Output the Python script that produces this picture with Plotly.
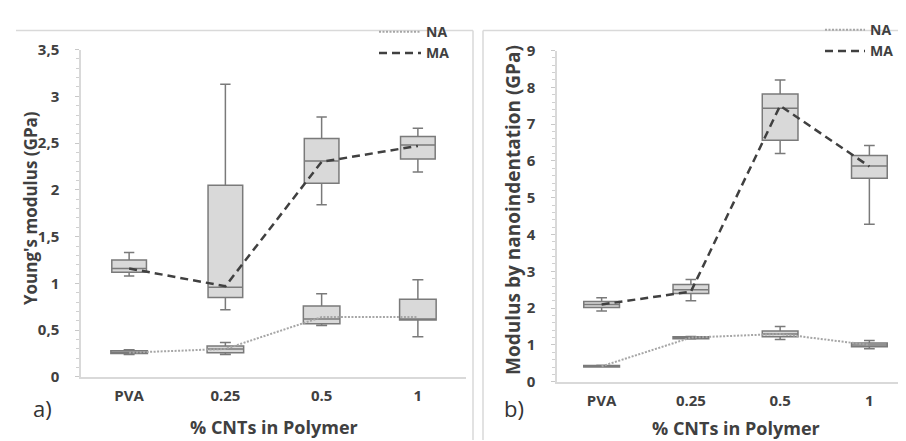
import plotly.graph_objects as go

categories = ["PVA", "0.25", "0.5", "1"]

# Panel a) Young's modulus (GPa)
a_ma_low = [1.08, 0.72, 1.84, 2.19]
a_ma_q1 = [1.12, 0.85, 2.07, 2.33]
a_ma_med = [1.16, 0.96, 2.31, 2.48]
a_ma_q3 = [1.25, 2.05, 2.55, 2.57]
a_ma_high = [1.33, 3.13, 2.78, 2.66]
a_ma_line = [1.16, 0.97, 2.30, 2.47]

a_na_low = [0.24, 0.24, 0.55, 0.43]
a_na_q1 = [0.25, 0.26, 0.57, 0.61]
a_na_med = [0.26, 0.30, 0.62, 0.62]
a_na_q3 = [0.28, 0.33, 0.76, 0.83]
a_na_high = [0.29, 0.37, 0.89, 1.04]
a_na_line = [0.26, 0.30, 0.64, 0.64]

# Panel b) Modulus by nanoindentation (GPa)
b_ma_low = [1.92, 2.20, 6.20, 4.28]
b_ma_q1 = [2.02, 2.40, 6.56, 5.53]
b_ma_med = [2.10, 2.50, 7.43, 5.86]
b_ma_q3 = [2.18, 2.64, 7.82, 6.15]
b_ma_high = [2.28, 2.78, 8.20, 6.42]
b_ma_line = [2.10, 2.45, 7.50, 5.85]

b_na_low = [0.40, 1.16, 1.15, 0.90]
b_na_q1 = [0.40, 1.17, 1.22, 0.95]
b_na_med = [0.42, 1.20, 1.30, 1.00]
b_na_q3 = [0.44, 1.22, 1.38, 1.05]
b_na_high = [0.45, 1.23, 1.50, 1.12]
b_na_line = [0.42, 1.20, 1.30, 1.00]

BOX_FILL = "#d9d9d9"
BOX_LINE = "#7a7a7a"
TXT = "#404040"
FONT = "Open Sans"

fig = go.Figure()


def add_box(xa, ya, low, q1, med, q3, high, width):
    fig.add_trace(go.Box(
        x=categories, lowerfence=low, q1=q1, median=med, q3=q3, upperfence=high,
        xaxis=xa, yaxis=ya, width=width, whiskerwidth=0.3,
        fillcolor=BOX_FILL, line=dict(color=BOX_LINE, width=1.5),
        showlegend=False, hoverinfo="skip", boxpoints=False,
    ))


add_box("x", "y", a_ma_low, a_ma_q1, a_ma_med, a_ma_q3, a_ma_high, 0.36)
add_box("x", "y", a_na_low, a_na_q1, a_na_med, a_na_q3, a_na_high, 0.38)
add_box("x2", "y2", b_ma_low, b_ma_q1, b_ma_med, b_ma_q3, b_ma_high, 0.40)
add_box("x2", "y2", b_na_low, b_na_q1, b_na_med, b_na_q3, b_na_high, 0.40)

NA_STYLE = dict(color="#a6a6a6", width=2, dash="2px,1.5px")
MA_STYLE = dict(color="#404040", width=2.5, dash="8px,5px")

fig.add_trace(go.Scatter(x=categories, y=a_na_line, mode="lines", name="NA",
                         line=NA_STYLE, xaxis="x", yaxis="y", legend="legend"))
fig.add_trace(go.Scatter(x=categories, y=a_ma_line, mode="lines", name="MA",
                         line=MA_STYLE, xaxis="x", yaxis="y", legend="legend"))
fig.add_trace(go.Scatter(x=categories, y=b_na_line, mode="lines", name="NA",
                         line=NA_STYLE, xaxis="x2", yaxis="y2", legend="legend2"))
fig.add_trace(go.Scatter(x=categories, y=b_ma_line, mode="lines", name="MA",
                         line=MA_STYLE, xaxis="x2", yaxis="y2", legend="legend2"))

W, H = 906, 441

axis_common = dict(showgrid=False, zeroline=False, showline=True,
                   linecolor="#d9d9d9", linewidth=1.5)
tickfont = dict(family=FONT, size=15, color=TXT, weight="bold")

xcommon = dict(axis_common, type="category", range=[-0.5, 3.5], ticks="",
               tickfont=tickfont, ticklabelstandoff=4)

legend_font = dict(family=FONT, size=14, color=TXT, weight="bold")

fig.update_layout(
    width=W, height=H, margin=dict(l=0, r=0, t=0, b=0),
    paper_bgcolor="white", plot_bgcolor="white",
    separators=", ", boxmode="overlay",
    xaxis=dict(xcommon, domain=[73 / W, 458 / W], anchor="y"),
    yaxis=dict(axis_common, domain=[1 - 375 / H, 1 - 32 / H], anchor="x",
               range=[0, 3.5], dtick=0.5, ticks="outside", ticklen=4,
               tickcolor="#c8c8c8", tickfont=tickfont, ticklabelstandoff=13,
               minor=dict(dtick=0.1, ticks="outside", ticklen=3, tickcolor="#d0d0d0")),
    xaxis2=dict(xcommon, domain=[549 / W, 1.0], anchor="y2"),
    yaxis2=dict(axis_common, domain=[1 - 380 / H, 1 - 33 / H], anchor="x2",
                range=[0, 9], dtick=1, ticks="outside", ticklen=4,
                tickcolor="#c8c8c8", tickfont=tickfont, ticklabelstandoff=13,
                minor=dict(dtick=0.2, ticks="outside", ticklen=3, tickcolor="#d0d0d0")),
    legend=dict(x=366 / W, y=1 + 3 / H, xanchor="left", yanchor="top",
                bgcolor="rgba(0,0,0,0)", tracegroupgap=0, itemwidth=42,
                font=legend_font),
    legend2=dict(x=812 / W, y=1 + 5 / H, xanchor="left", yanchor="top",
                 bgcolor="rgba(0,0,0,0)", tracegroupgap=0, itemwidth=40,
                 font=legend_font),
)

ann_font = dict(family=FONT, size=18, color=TXT, weight="bold")
fig.add_annotation(text="% CNTs in Polymer", x=266 / W, y=1 - 427 / H, xref="paper", yref="paper",
                   showarrow=False, font=ann_font, xanchor="center", yanchor="middle")
fig.add_annotation(text="% CNTs in Polymer", x=728 / W, y=1 - 428 / H, xref="paper", yref="paper",
                   showarrow=False, font=ann_font, xanchor="center", yanchor="middle")
fig.add_annotation(text="Young's modulus (GPa)", x=22 / W, y=1 - 198 / H, xref="paper", yref="paper",
                   showarrow=False, textangle=-90, font=dict(ann_font, size=17),
                   xanchor="center", yanchor="middle")
fig.add_annotation(text="Modulus by nanoindentation (GPa)", x=505 / W, y=1 - 200 / H,
                   xref="paper", yref="paper", showarrow=False, textangle=-90,
                   font=dict(ann_font, size=19), xanchor="center", yanchor="middle")
fig.add_annotation(text="a)", x=34 / W, y=1 - 408 / H, xref="paper", yref="paper",
                   showarrow=False, font=dict(family=FONT, size=22, color="#333333"),
                   xanchor="center", yanchor="middle")
fig.add_annotation(text="b)", x=506 / W, y=1 - 408 / H, xref="paper", yref="paper",
                   showarrow=False, font=dict(family=FONT, size=22, color="#333333"),
                   xanchor="center", yanchor="middle")

# panel frames
frame = dict(type="line", xref="paper", yref="paper", line=dict(color="#d9d9d9", width=1.5))
fig.add_shape(frame, x0=8 / W, x1=465 / W, y0=1 - 12 / H, y1=1 - 12 / H)
fig.add_shape(frame, x0=465 / W, x1=465 / W, y0=1 - 12 / H, y1=0)
fig.add_shape(frame, x0=475 / W, x1=475 / W, y0=1 - 12 / H, y1=0)
fig.add_shape(frame, x0=475 / W, x1=1, y0=1 - 12 / H, y1=1 - 12 / H)

fig.write_html("out.html")
